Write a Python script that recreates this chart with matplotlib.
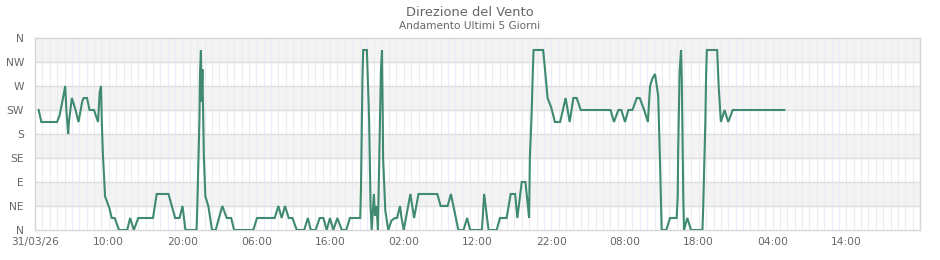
import matplotlib
matplotlib.use("Agg")
import matplotlib.pyplot as plt

# ore dall'inizio (31/03/26 00:00) e direzione in ottanti (0 = N, 2 = E, 4 = S, 6 = W, 8 = N)
ore = [0.5, 0.86, 3.0, 3.35, 3.8, 4.1, 4.25, 4.5, 4.6, 5.0, 5.5, 5.9, 6.4, 6.6, 7.05,
       7.4, 8.0, 8.55, 8.77, 8.95, 9.08, 9.2, 9.4, 9.5, 10.1, 10.4, 10.8, 11.4, 12.5,
       12.9, 13.4, 14.0, 16.0, 16.5, 18.1, 19.0, 19.6, 20.0, 20.4, 21.9, 22.0, 22.15,
       22.3, 22.37, 22.5, 22.6, 22.7, 22.9, 23.1, 23.5, 24.0, 24.5, 25.4, 26.0, 26.6,
       27.0, 29.6, 30.1, 32.5, 33.0, 33.45, 33.9, 34.4, 34.9, 35.5, 36.5, 37.0, 37.4,
       38.05, 38.6, 39.1, 39.55, 40.0, 40.45, 41.0, 41.6, 42.2, 42.7, 44.1, 44.2, 44.3,
       44.4, 44.5, 45.0, 45.1, 45.3, 45.5, 45.65, 45.95, 46.1, 46.3, 46.5, 46.8, 46.9,
       47.05, 47.15, 47.2, 47.5, 47.9, 48.35, 48.8, 49.1, 49.5, 49.7, 50.0, 50.9, 51.4,
       52.0, 54.55, 55.0, 55.95, 56.4, 56.8, 57.4, 58.1, 58.6, 59.0, 60.6, 60.9, 61.5,
       62.6, 63.05, 63.95, 64.5, 65.1, 65.4, 66.0, 66.5, 67.0, 67.1, 67.35, 67.5, 67.6,
       68.9, 69.15, 69.5, 70.0, 70.5, 71.2, 71.95, 72.5, 73.0, 73.45, 74.0, 78.05, 78.5,
       79.1, 79.5, 80.0, 80.45, 81.0, 81.6, 82.0, 82.6, 83.1, 83.4, 83.7, 84.07, 84.5,
       84.75, 84.9, 84.97, 85.6, 86.1, 87.0, 87.15, 87.2, 87.3, 87.4, 87.6, 87.7, 87.8,
       87.9, 88.0, 88.45, 88.95, 90.5, 90.6, 90.75, 90.9, 91.0, 91.1, 92.5, 92.7, 92.9,
       93.0, 93.5, 94.0, 94.6, 101.6]
direzione = [5.0, 4.5, 4.5, 4.8, 5.5, 6.0, 5.0, 4.0, 4.5, 5.5, 5.0, 4.5, 5.35, 5.5, 5.5,
             5.0, 5.0, 4.5, 5.75, 6.0, 4.3, 3.2, 2.0, 1.4, 0.9, 0.5, 0.5, 0.0, 0.0,
             0.5, 0.0, 0.5, 0.5, 1.5, 1.5, 0.5, 0.5, 1.0, 0.0, 0.0, 0.9, 2.7,
             4.65, 6.5, 7.5, 5.35, 6.7, 3.0, 1.4, 1.0, 0.0, 0.0, 1.0, 0.5, 0.5,
             0.0, 0.0, 0.5, 0.5, 1.0, 0.5, 1.0, 0.5, 0.5, 0.0, 0.0, 0.5, 0.0,
             0.0, 0.5, 0.5, 0.0, 0.5, 0.0, 0.5, 0.0, 0.0, 0.5, 0.5, 1.7, 4.0,
             6.3, 7.5, 7.5, 6.5, 4.65, 1.0, 0.0, 1.5, 0.6, 1.0, 0.0, 4.9, 6.6,
             7.5, 4.8, 3.0, 0.8, 0.0, 0.4, 0.5, 0.5, 1.0, 0.5, 0.0, 1.5, 0.5,
             1.5, 1.5, 1.0, 1.0, 1.5, 0.9, 0.0, 0.0, 0.5, 0.0, 0.0, 1.5, 0.0,
             0.0, 0.5, 0.5, 1.5, 1.5, 0.5, 2.0, 2.0, 0.5, 3.0, 4.9, 6.6, 7.5,
             7.5, 6.7, 5.5, 5.1, 4.5, 4.5, 5.5, 4.5, 5.5, 5.5, 5.0, 5.0, 4.5,
             5.0, 5.0, 4.5, 5.0, 5.0, 5.5, 5.5, 5.0, 4.5, 6.0, 6.3, 6.5, 5.6,
             2.8, 0.9, 0.0, 0.0, 0.5, 0.5, 1.4, 3.1, 4.9, 6.6, 7.5, 6.3, 3.9,
             1.4, 0.0, 0.5, 0.0, 0.0, 0.9, 2.7, 4.6, 6.5, 7.5, 7.5, 6.0, 5.0,
             4.5, 5.0, 4.5, 5.0, 5.0]

punti_cardinali = ["N", "NE", "E", "SE", "S", "SW", "W", "NW", "N"]
tick_ore = [0, 10, 20, 30, 40, 50, 60, 70, 80, 90, 100, 110]
tick_etichette = ["31/03/26", "10:00", "20:00", "06:00", "16:00", "02:00",
                  "12:00", "22:00", "08:00", "18:00", "04:00", "14:00"]

grigio = "#666666"

fig = plt.figure(figsize=(9.4, 2.6), dpi=100)
ax = fig.add_axes([35 / 940, 1 - 230 / 260, 885 / 940, 192 / 260])
ax.set_xlim(0, 120)
ax.set_ylim(0, 8)

# bande alternate
for k in range(1, 8, 2):
    ax.axhspan(k, k + 1, color="#f3f3f3", lw=0, zorder=0)
# griglia verticale oraria
for h in range(1, 120):
    ax.axvline(h, color="#ebebfa", lw=0.8, zorder=1)
for k in range(1, 8):
    ax.axhline(k, color="#dedede", lw=1.0, zorder=1)

ax.plot(ore, direzione, color="#3f8a70", lw=1.5, zorder=3, solid_joinstyle="miter")

ax.set_yticks(range(9))
ax.set_yticklabels(punti_cardinali)
ax.set_xticks(tick_ore)
ax.set_xticklabels(tick_etichette)
ax.tick_params(length=0, labelsize=7.7, colors=grigio, pad=5)
ax.tick_params(axis="y", pad=8)
for s in ax.spines.values():
    s.set_color("#d6d6d6")
    s.set_linewidth(1.0)

fig.text(0.5, 1 - 12 / 260, "Direzione del Vento", ha="center", va="center",
         fontsize=9.4, color=grigio)
fig.text(0.5, 1 - 26 / 260, "Andamento Ultimi 5 Giorni", ha="center", va="center",
         fontsize=7.6, color=grigio)

fig.savefig("out.png", dpi=100)
